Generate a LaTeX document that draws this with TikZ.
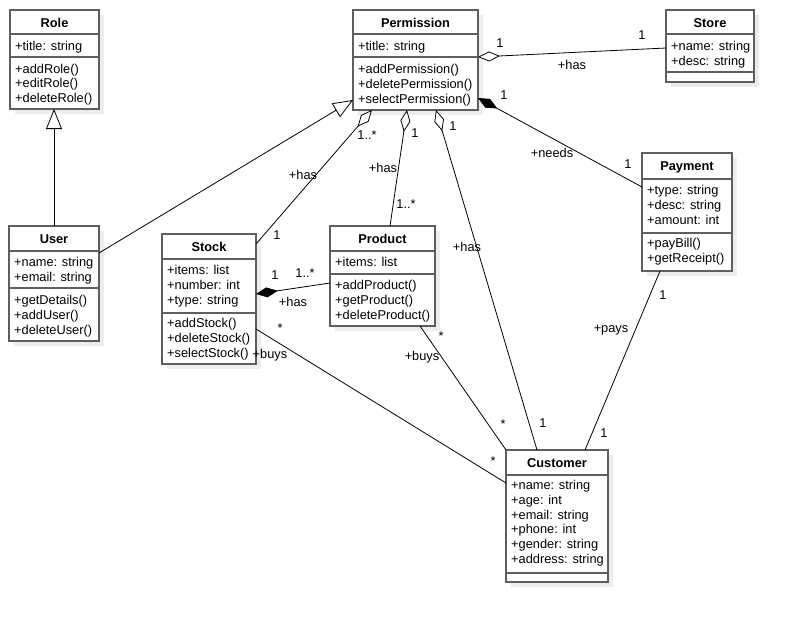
\documentclass[tikz,border=0pt]{standalone}
\usepackage{fontspec}
\setmainfont{Liberation Sans}
\usetikzlibrary{arrows.meta,calc}
\definecolor{boxgray}{HTML}{5E5E5E}
\newcommand\umlbox[8]{%
  \fill[black!7] (#2+5,#3+5) rectangle (#4+5,#5+5);
  \node[cls, minimum width={#4-#2}, minimum height={#5-#3}] (#1) at (#2,#3) {};
  \draw[div] (#2,#6) -- (#4,#6);
  \draw[div] (#2,#7) -- (#4,#7);
  \node[ttl] (#1-title) at ({(#2+#4)/2},{#3+12.5}) {#8};
}
\newcommand\memlines[4]{%
  \foreach \t [count=\i from 0] in {#4} {\node[mem] (#1-\i) at (#2, {#3+14.8*\i}) {\t};}
}
\begin{document}
\begin{tikzpicture}[x=1pt,y=-1pt,
  cls/.style={draw=boxgray, line width=1.4pt, fill=white, anchor=north west, inner sep=0pt, outer sep=0pt},
  div/.style={draw=boxgray, line width=1.4pt},
  ttl/.style={font=\fontsize{12.8}{15}\selectfont\bfseries, inner sep=0pt, text height=9pt, text depth=0pt},
  mem/.style={font=\fontsize{12.8}{15}\selectfont, inner sep=0pt, anchor=west, text height=9pt, text depth=0pt},
  lbl/.style={font=\fontsize{12.8}{15}\selectfont, inner sep=0pt, text height=9pt, text depth=0pt},
  con/.style={draw=black, line width=0.8pt},
  agg/.style={con, -{Diamond[open, fill=white, length=22pt, width=10pt]}},
  cmp/.style={con, -{Diamond[fill=black, length=22pt, width=10pt]}},
  gen/.style={con, -{Triangle[open, fill=white, length=20pt, width=16pt]}},
]
\useasboundingbox (0,0) rectangle (794,622);
\fill[white] (0,0) rectangle (794,622);

% classes
\umlbox{role}{10}{10}{99}{109}{34}{57}{Role}
\memlines{roleA}{15}{45.5}{+title: string}
\memlines{roleM}{15}{68.5}{+addRole(),+editRole(),+deleteRole()}

\umlbox{perm}{353}{10}{478}{110}{34}{57}{Permission}
\memlines{permA}{358}{46}{+title: string}
\memlines{permM}{358}{69}{+addPermission(),+deletePermission(),+selectPermission()}

\umlbox{store}{666}{10}{754}{82}{34}{72}{Store}
\memlines{storeA}{671}{46}{+name: string,+desc: string}

\umlbox{user}{9}{226}{99}{341}{251}{288}{User}
\memlines{userA}{14}{262}{+name: string,+email: string}
\memlines{userM}{14}{300}{+getDetails(),+addUser(),+deleteUser()}

\umlbox{stock}{162}{234}{256}{364}{259}{313}{Stock}
\memlines{stockA}{167}{270}{+items: list,+number: int,+type: string}
\memlines{stockM}{167}{323}{+addStock(),+deleteStock(),+selectStock()}

\umlbox{product}{330}{226}{435}{326}{251}{274}{Product}
\memlines{productA}{335}{262}{+items: list}
\memlines{productM}{335}{285}{+addProduct(),+getProduct(),+deleteProduct()}

\umlbox{payment}{642}{153}{732}{271}{179}{233}{Payment}
\memlines{paymentA}{647}{190}{+type: string,+desc: string,+amount: int}
\memlines{paymentM}{647}{243}{+payBill(),+getReceipt()}

\umlbox{customer}{506}{450}{608}{582}{475}{573}{Customer}
\memlines{customerA}{511}{485}{+name: string,+age: int,+email: string,+phone: int,+gender: string,+address: string}

% connectors
\draw[gen] (user.north) -- (user.north |- role.south);
\draw[gen] ([yshift=-27pt]user.north east) -- ([yshift=10pt]perm.south west);
\draw[agg] ([yshift=-10pt]stock.north east) -- ([xshift=19pt]perm.south west);
\draw[agg] ([xshift=60pt]product.north west) -- ([xshift=54pt]perm.south west);
\draw[agg] ([xshift=31pt]customer.north west) -- ([xshift=83pt]perm.south west);
\draw[agg] ([yshift=-38pt]store.north west) -- ([yshift=-47pt]perm.north east);
\draw[cmp] ([yshift=-34pt]payment.north west) -- ([yshift=12pt]perm.south east);
\draw[cmp] ([yshift=-57pt]product.north west) -- ([yshift=-60pt]stock.north east);
\draw[con] ([yshift=-95pt]stock.north east) -- ([yshift=-33pt]customer.north west);
\draw[con] ([xshift=90pt]product.south west) -- (customer.north west);
\draw[con] ([xshift=18pt]payment.south west) -- ([xshift=79pt]customer.north west);

% labels
\node[lbl] (l1) at (367,135) {1..*};
\node[lbl] (l2) at (303,175) {+has};
\node[lbl] (l3) at (277,235) {1};
\node[lbl] (l4) at (415,133) {1};
\node[lbl] (l5) at (383,168) {+has};
\node[lbl] (l6) at (406,204) {1..*};
\node[lbl] (l7) at (453,126) {1};
\node[lbl] (l8) at (467,247) {+has};
\node[lbl] (l9) at (543,423) {1};
\node[lbl] (l10) at (500,43) {1};
\node[lbl] (l11) at (642,35) {1};
\node[lbl] (l12) at (572,65) {+has};
\node[lbl] (l13) at (504,95) {1};
\node[lbl] (l14) at (552,153) {+needs};
\node[lbl] (l15) at (628,164) {1};
\node[lbl] (l16) at (275,275) {1};
\node[lbl] (l17) at (305,273) {1..*};
\node[lbl] (l18) at (293,302) {+has};
\node[lbl] (l19) at (280,327.5) {*};
\node[lbl] (l20) at (270,354) {+buys};
\node[lbl] (l21) at (493,460.5) {*};
\node[lbl] (l22) at (441,335.5) {*};
\node[lbl] (l23) at (422,356) {+buys};
\node[lbl] (l24) at (503,423.5) {*};
\node[lbl] (l25) at (663,295) {1};
\node[lbl] (l26) at (611,328) {+pays};
\node[lbl] (l27) at (604,433) {1};
\end{tikzpicture}
\end{document}
